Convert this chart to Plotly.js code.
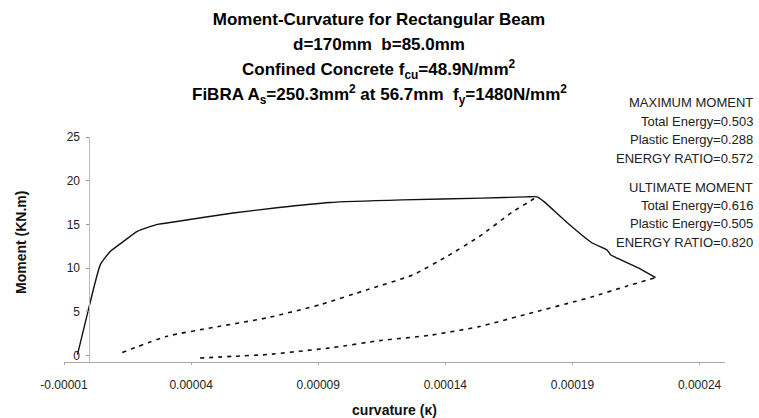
<!DOCTYPE html>
<html>
<head>
<meta charset="utf-8">
<script src="https://cdn.plot.ly/plotly-3.0.1.min.js"></script>
<style>html,body{margin:0;padding:0;background:#fff;}#chart{width:759px;height:418px;}</style>
</head>
<body>
<div id="chart"></div>
<script>
// Moment-curvature envelope (solid)
const curvature = [-0.0000047, -0.0000004, 0.0000043, 0.0000082, 0.0000141, 0.0000188, 0.0000267, 0.0000337, 0.0000565, 0.0000737, 0.0000945, 0.0001231, 0.0001545, 0.0001718, 0.0001761, 0.0001788, 0.0001875, 0.0001976, 0.0002035, 0.0002051, 0.0002071, 0.0002161, 0.0002227];
const moment = [0.1, 5.25, 10.4, 11.9, 13.2, 14.2, 15.0, 15.3, 16.3, 16.9, 17.5, 17.8, 18.0, 18.15, 18.15, 17.6, 15.3, 12.9, 12.1, 11.5, 11.2, 10.0, 8.9];
// Unloading from maximum moment (dashed)
const unloadMaxX = [0.0000129, 0.0000306, 0.0000486, 0.0000698, 0.0000906, 0.000109, 0.0001271, 0.0001404, 0.0001533, 0.0001663, 0.0001741, 0.000175];
const unloadMaxY = [0.34, 2.2, 3.2, 4.3, 5.8, 7.5, 9.2, 11.3, 13.6, 16.4, 17.8, 18.0];
// Unloading from ultimate moment (dashed)
const unloadUltX = [0.0000435, 0.0000565, 0.0000698, 0.0000957, 0.0001141, 0.0001337, 0.0001533, 0.0001729, 0.0001914, 0.0001976, 0.000211, 0.0002227];
const unloadUltY = [-0.3, -0.1, 0.1, 0.9, 1.7, 2.3, 3.3, 4.8, 6.2, 6.7, 7.9, 8.9];

const xTickVals = [-0.00001, 0.00004, 0.00009, 0.00014, 0.00019, 0.00024];
const xTickText = ['-0.00001', '0.00004', '0.00009', '0.00014', '0.00019', '0.00024'];
const yTickVals = [0, 5, 10, 15, 20, 25];

const titleLines = [
  'Moment-Curvature for Rectangular Beam',
  'd=170mm\u00A0 b=85.0mm',
  'Confined Concrete f<sub>cu</sub>=48.9N/mm<sup>2</sup>',
  'FiBRA A<sub>s</sub>=250.3mm<sup>2</sup> at 56.7mm\u00A0 f<sub>y</sub>=1480N/mm<sup>2</sup>'
];
const energyLines = [
  'MAXIMUM MOMENT', 'Total Energy=0.503', 'Plastic Energy=0.288', 'ENERGY RATIO=0.572',
  'ULTIMATE MOMENT', 'Total Energy=0.616', 'Plastic Energy=0.505', 'ENERGY RATIO=0.820'
];

const W = 759, H = 418;
const M = {l: 64, r: 34, t: 137, b: 56};
const xRange = [-0.00001, 0.00025];
const yRange = [-0.75, 25];
const pw = W - M.l - M.r, ph = H - M.t - M.b;
const px2x = px => (px - M.l) / pw;
const py2y = py => (H - M.b - py) / ph;

const FONT = 'Arial, "Liberation Sans", sans-serif';

const traces = [
  {x: curvature, y: moment, mode: 'lines', name: 'Moment-curvature',
   line: {color: '#111', width: 1.4, shape: 'spline', smoothing: 0.5}},
  {x: unloadMaxX, y: unloadMaxY, mode: 'lines', name: 'Unloading (maximum moment)',
   line: {color: '#111', width: 1.6, dash: '4px,5px', shape: 'spline', smoothing: 0.5}},
  {x: unloadUltX, y: unloadUltY, mode: 'lines', name: 'Unloading (ultimate moment)',
   line: {color: '#111', width: 1.6, dash: '4px,5px', shape: 'spline', smoothing: 0.5}}
];

const annotations = [];
const titleY = [44, 69, 94];
for (let i = 1; i < titleLines.length; i++) {
  annotations.push({text: titleLines[i], xref: 'paper', yref: 'paper',
    x: px2x(379), y: py2y(titleY[i - 1]), xanchor: 'center', yanchor: 'middle',
    showarrow: false, font: {family: FONT, size: 17, color: '#000', weight: 'bold'}});
}
const energyY = [103, 121, 139, 158, 187, 205, 223, 242];
energyLines.forEach((t, i) => {
  annotations.push({text: t, xref: 'paper', yref: 'paper',
    x: px2x(755), y: py2y(energyY[i]), xanchor: 'right', yanchor: 'middle',
    showarrow: false, font: {family: FONT, size: 13, color: '#222'}});
});
annotations.push({text: 'Moment (KN.m)', xref: 'paper', yref: 'paper',
  x: px2x(21), y: py2y(243), xanchor: 'center', yanchor: 'middle', textangle: -90,
  showarrow: false, font: {family: FONT, size: 14, color: '#111', weight: 'bold'}});

const layout = {
  width: W, height: H,
  margin: M,
  paper_bgcolor: '#fff', plot_bgcolor: '#fff',
  showlegend: false,
  font: {family: FONT, color: '#222'},
  title: {text: titleLines[0], x: 379 / W, xanchor: 'center', y: 1 - 19 / H, yanchor: 'middle',
    yref: 'container', font: {family: FONT, size: 17, color: '#000', weight: 'bold'}},
  xaxis: {
    range: xRange, showgrid: false, zeroline: false,
    showline: true, linecolor: '#aaa', linewidth: 1,
    tickmode: 'array', tickvals: xTickVals, ticktext: xTickText,
    ticks: 'outside', ticklen: 2, tickcolor: '#aaa',
    ticklabelstandoff: 10,
    tickfont: {family: FONT, size: 12, color: '#222'},
    title: {text: 'curvature (κ)', standoff: 14, font: {family: FONT, size: 14, color: '#111', weight: 'bold'}}
  },
  yaxis: {
    range: yRange, showgrid: false, zeroline: false,
    anchor: 'free', position: (0 - xRange[0]) / (xRange[1] - xRange[0]),
    showline: true, linecolor: '#bbb', linewidth: 1,
    tickmode: 'array', tickvals: yTickVals,
    ticks: 'outside', ticklen: 3, tickcolor: '#999',
    ticklabelstandoff: 4,
    tickfont: {family: FONT, size: 12, color: '#222'}
  },
  annotations: annotations
};

Plotly.newPlot('chart', traces, layout, {displayModeBar: false, staticPlot: true});
</script>
</body>
</html>
